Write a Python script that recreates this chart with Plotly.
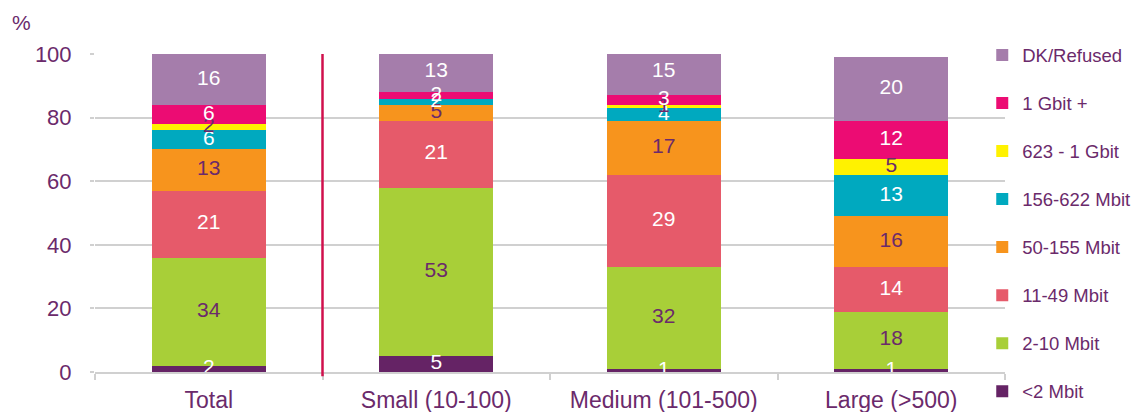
import plotly.graph_objects as go

categories = ["Total", "Small (10-100)", "Medium (101-500)", "Large (>500)"]

series_names = ["<2 Mbit", "2-10 Mbit", "11-49 Mbit", "50-155 Mbit",
                "156-622 Mbit", "623 - 1 Gbit", "1 Gbit +", "DK/Refused"]

lt2_mbit = [2, 5, 1, 1]
mbit_2_10 = [34, 53, 32, 18]
mbit_11_49 = [21, 21, 29, 14]
mbit_50_155 = [13, 5, 17, 16]
mbit_156_622 = [6, 2, 4, 13]
gbit_623_1 = [2, 0, 1, 5]
gbit_1_plus = [6, 2, 3, 12]
dk_refused = [16, 13, 15, 20]

series_values = [lt2_mbit, mbit_2_10, mbit_11_49, mbit_50_155,
                 mbit_156_622, gbit_623_1, gbit_1_plus, dk_refused]

colors = ["#652365", "#A8CF38", "#E65A6A", "#F7941D",
          "#00A9BF", "#FFF200", "#EC0C73", "#A57DAB"]
label_colors = ["#FFFFFF", "#6B2A6B", "#FFFFFF", "#6B2A6B",
                "#FFFFFF", "#6B2A6B", "#FFFFFF", "#FFFFFF"]

y_ticks = [0, 20, 40, 60, 80, 100]

PURPLE = "#6B2A6B"
GRID = "#D0D0D0"
FONT = "Liberation Sans, Arial, sans-serif"

n = len(series_names)
fig = go.Figure()
for i, (name, vals) in enumerate(zip(series_names, series_values)):
    fig.add_trace(go.Bar(
        x=categories, y=vals, name=name,
        marker=dict(color=colors[i], line=dict(width=0)),
        legendgroup=name, legendrank=100 + (n - i),
        hoverinfo="skip",
    ))

# data labels drawn on top of all bars (like the original), centred in each segment
base = [0] * len(categories)
for i, vals in enumerate(series_values):
    mids = [b + v / 2 for b, v in zip(base, vals)]
    base = [b + v for b, v in zip(base, vals)]
    fig.add_trace(go.Scatter(
        x=categories, y=mids, mode="text",
        text=[str(v) if v > 0 else "" for v in vals],
        textposition="middle center",
        textfont=dict(color=label_colors[i], size=21, family=FONT),
        showlegend=False, hoverinfo="skip", cliponaxis=True,
    ))

fig.add_shape(type="line", xref="x", yref="paper", x0=0.5, x1=0.5,
              y0=-0.013, y1=1.0, line=dict(color="#D0104C", width=2.5))

fig.add_annotation(text="%", xref="paper", yref="paper", x=-0.093, y=1.1,
                   xanchor="left", yanchor="middle", showarrow=False,
                   font=dict(size=21, color=PURPLE, family=FONT))

fig.update_layout(
    width=1143, height=412,
    margin=dict(l=95, r=138, t=54, b=40, autoexpand=False),
    barmode="stack", bargap=0.5,
    plot_bgcolor="white", paper_bgcolor="white",
    font=dict(family=FONT, color=PURPLE),
    showlegend=True,
    legend=dict(traceorder="grouped", x=0.975, xanchor="left",
                y=1.0555, yanchor="top", tracegroupgap=21, maxheight=420,
                font=dict(size=18.5, color=PURPLE, family=FONT),
                bgcolor="rgba(0,0,0,0)", itemwidth=30),
    xaxis=dict(showline=True, linecolor=GRID, linewidth=2, automargin=False,
               ticks="outside", tickson="boundaries", ticklen=6,
               tickcolor=GRID, tickwidth=2, ticklabelstandoff=6,
               tickfont=dict(size=23, color=PURPLE, family=FONT),
               showgrid=False),
    yaxis=dict(range=[0, 100], tickvals=y_ticks, showgrid=True, automargin=False,
               gridcolor=GRID, gridwidth=2, zeroline=False,
               ticks="outside", ticklen=4, tickcolor=GRID, tickwidth=2,
               ticklabelstandoff=14,
               tickfont=dict(size=22, color=PURPLE, family=FONT)),
)

fig.write_html("out.html")
